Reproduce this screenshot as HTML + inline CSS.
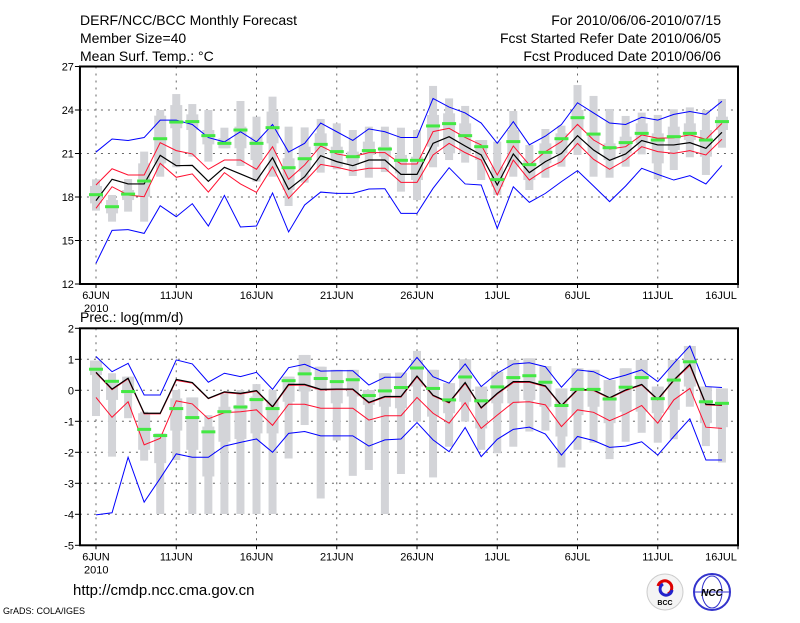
<!DOCTYPE html>
<html><head><meta charset="utf-8"><style>
body{margin:0;background:#fff;}
svg text{font-family:"Liberation Sans",sans-serif;fill:#000;}
</style></head><body>
<svg id="chart" width="800" height="618" viewBox="0 0 800 618" xmlns="http://www.w3.org/2000/svg">
<text x="80" y="25" font-size="14">DERF/NCC/BCC Monthly Forecast</text>
<text x="80" y="43" font-size="14">Member Size=40</text>
<text x="80" y="61" font-size="14">Mean Surf. Temp.: °C</text>
<text x="721" y="25" font-size="14" text-anchor="end">For 2010/06/06-2010/07/15</text>
<text x="721" y="43" font-size="14" text-anchor="end">Fcst Started Refer Date 2010/06/05</text>
<text x="721" y="61" font-size="14" text-anchor="end">Fcst Produced Date 2010/06/06</text>
<text x="80" y="322" font-size="14">Prec.: log(mm/d)</text>
<text x="73" y="595" font-size="15">http://cmdp.ncc.cma.gov.cn</text>
<text x="3" y="614" font-size="9">GrADS: COLA/IGES</text>
<g>
<circle cx="665" cy="592" r="18" fill="#f4f4f4" stroke="#ccc"/>
<path d="M658 586 a7 7 0 1 1 10 8" fill="none" stroke="#d00" stroke-width="3"/>
<path d="M672 590 a6 6 0 1 1 -9 -6" fill="none" stroke="#22c" stroke-width="3"/>
<text x="665" y="605" font-size="7" text-anchor="middle" font-weight="bold" fill="#333">BCC</text>
</g>
<g>
<circle cx="712" cy="592" r="18" fill="#fff" stroke="#33c" stroke-width="2"/>
<ellipse cx="712" cy="592" rx="10" ry="16" fill="none" stroke="#33c"/>
<line x1="694" y1="592" x2="730" y2="592" stroke="#33c"/>
<text x="712" y="596" font-size="10" text-anchor="middle" font-weight="bold" fill="#22c" font-style="italic">NCC</text>
</g>
</svg>
<script>
// ---- Temperature panel data ----
const days = ['6JUN','11JUN','16JUN','21JUN','26JUN','1JUL','6JUL','11JUL','16JUL'];
const tTicks = [27,24,21,18,15,12];
const tBlueTop = [21.1,22.0,21.9,22.1,23.3,23.3,23.0,22.1,21.8,22.5,21.8,23.0,21.1,21.7,23.1,22.5,21.9,22.7,22.5,22.1,22.1,24.8,24.2,23.8,23.1,21.7,23.2,21.6,22.2,23.0,24.5,23.8,23.1,23.0,23.5,23.3,23.7,23.9,23.7,24.6];
const tRedTop = [18.83,19.95,19.52,19.52,21.75,21.2,20.97,19.91,20.55,20.55,19.91,21.47,19.22,20.21,21.52,20.97,20.78,21.06,21.06,20.28,20.28,22.51,22.74,22.11,21.59,19.52,21.52,20.21,21.13,21.82,23.01,21.93,21.31,21.47,22.28,22.05,22.09,22.28,21.98,23.08];
const tMean = [17.75,19.22,18.9,18.9,20.87,20.16,20.18,19.08,20.05,19.59,19.13,20.71,18.53,19.4,20.85,20.44,20.16,20.55,20.55,19.56,19.56,21.7,22.16,21.52,20.9,18.83,20.97,19.68,20.44,21.01,22.23,21.24,20.53,20.97,21.89,21.59,21.59,21.75,21.36,22.46];
const tRedBot = [17.22,18.71,18.14,18.02,20.32,19.36,19.59,18.34,19.68,18.9,18.32,20.09,17.91,19.06,20.25,20.05,19.79,19.98,19.98,19.01,19.01,20.9,21.7,21.06,20.55,18.14,20.55,19.17,19.91,20.44,21.7,20.6,19.91,20.55,21.47,21.13,21.01,21.2,20.9,21.98];
const tBlueBot = [13.43,15.7,15.75,15.49,17.4,16.64,17.54,16.0,18.11,15.93,16.0,18.28,15.59,17.45,18.34,18.25,18.25,18.55,18.57,16.87,16.87,18.6,20.02,18.9,18.83,15.84,18.71,17.63,18.25,19.06,19.82,18.76,17.68,18.76,19.98,19.56,19.17,19.47,18.9,20.18];
const tOutHi = [19.22,18.14,19.24,21.13,24.0,25.1,24.41,24.0,22.78,24.62,23.54,24.92,22.85,22.8,23.38,23.08,22.62,22.85,22.85,22.78,22.62,25.66,24.8,24.28,21.93,21.82,23.93,21.59,22.69,22.92,25.72,24.97,24.07,23.59,23.82,23.66,24.05,24.18,24.0,24.76];
const tOutLo = [17.06,16.3,16.99,16.3,19.4,20.05,20.78,20.44,21.36,20.14,19.06,19.4,17.38,18.99,19.68,19.91,19.45,19.33,19.72,18.37,17.79,20.05,20.55,20.37,19.17,18.14,19.4,18.48,19.33,20.09,20.9,19.4,19.33,20.09,20.94,19.22,19.86,20.74,19.52,21.4];
const tInHi = [18.76,17.79,18.48,20.32,23.61,24.34,23.7,22.62,22.05,22.85,22.16,23.89,20.67,21.47,22.39,21.47,21.13,21.82,21.47,20.9,20.78,23.66,23.77,23.08,21.93,20.09,22.62,20.55,21.7,22.39,24.0,22.39,21.7,22.16,23.08,22.39,22.85,23.08,22.62,23.54];
const tInLo = [17.56,16.87,17.79,18.02,20.32,22.74,22.62,21.63,21.36,21.36,20.55,21.7,18.48,19.75,21.13,20.09,20.21,20.9,20.78,19.63,19.17,21.47,21.01,21.01,20.55,18.71,20.09,19.17,20.32,21.01,22.62,21.01,20.55,21.01,21.7,20.32,21.24,21.93,20.78,22.62];
const tGreen = [18.16,17.33,18.2,19.1,22.02,23.17,23.2,22.23,21.7,22.62,21.7,22.78,20.02,20.64,21.63,21.13,20.78,21.2,21.31,20.53,20.53,22.9,23.06,22.23,21.47,19.2,21.82,20.23,21.08,22.02,23.47,22.34,21.4,21.75,22.39,21.93,22.16,22.39,21.93,23.2];
// ---- Precipitation panel data ----
const pTicks = [2,1,0,-1,-2,-3,-4,-5];
const pBlueTop = [1.09,0.6,0.87,-0.15,-0.15,0.98,0.85,0.26,0.55,0.44,0.58,0.03,0.73,0.84,0.62,0.63,0.63,0.17,0.42,0.42,1.06,0.44,0.23,0.85,0.12,0.55,0.85,0.89,0.76,0.1,0.66,0.6,0.35,0.49,0.66,0.28,0.87,1.43,0.12,0.09];
const pMean = [0.58,0.04,0.39,-0.74,-0.74,0.35,0.25,-0.26,-0.05,-0.1,-0.01,-0.53,0.19,0.19,0.03,0.04,0.04,-0.39,-0.2,-0.2,0.46,-0.16,-0.39,0.25,-0.56,-0.1,0.28,0.28,0.14,-0.49,0.03,0.01,-0.24,0.01,0.19,-0.29,0.33,0.84,-0.45,-0.47];
const pRedTop = [0.56,0.02,0.37,-0.76,-0.76,0.32,0.23,-0.27,-0.07,-0.12,-0.03,-0.55,0.16,0.17,0.01,0.02,0.02,-0.41,-0.22,-0.22,0.43,-0.18,-0.41,0.22,-0.58,-0.12,0.25,0.26,0.12,-0.51,0.01,-0.01,-0.26,-0.01,0.17,-0.31,0.31,0.8,-0.47,-0.49];
const pRedBot = [-0.23,-0.87,-0.37,-1.76,-1.55,-0.34,-0.44,-0.92,-0.72,-0.69,-0.63,-1.13,-0.45,-0.45,-0.58,-0.58,-0.58,-0.96,-0.82,-0.82,-0.23,-0.74,-1.06,-0.4,-1.23,-0.8,-0.39,-0.37,-0.47,-1.17,-0.63,-0.71,-0.98,-0.76,-0.49,-1.06,-0.31,0.06,-1.19,-1.23];
const pBlueBot = [-4.02,-3.95,-2.16,-3.61,-2.84,-2.05,-2.16,-2.16,-1.8,-1.68,-1.57,-2.0,-1.39,-1.33,-1.47,-1.47,-1.47,-1.8,-1.6,-1.57,-1.04,-1.6,-1.98,-1.2,-2.14,-1.58,-1.26,-1.19,-1.41,-2.09,-1.49,-1.62,-1.84,-1.8,-1.66,-2.09,-1.49,-0.92,-2.25,-2.25];
const pOutHi = [0.96,0.55,0.44,-0.69,-1.39,0.01,-0.23,-0.8,-0.1,0.01,0.2,0.01,0.44,1.14,0.76,0.66,0.66,0.01,0.55,0.57,1.27,0.66,0.23,1.0,0.12,0.6,0.98,1.03,0.78,0.06,0.71,0.66,0.33,0.71,0.98,0.12,0.98,1.43,0.12,0.06];
const pOutLo = [-0.83,-2.14,-0.9,-2.27,-3.99,-2.25,-3.99,-3.99,-3.99,-3.99,-3.99,-3.99,-2.2,-1.12,-3.49,-1.62,-2.76,-2.57,-3.99,-2.7,-1.01,-2.81,-1.82,-1.01,-1.92,-2.03,-1.82,-1.33,-1.3,-2.49,-1.92,-1.69,-2.22,-1.66,-1.37,-1.69,-1.58,-0.53,-1.8,-2.33];
const pInHi = [0.96,0.23,0.44,-0.74,-1.39,-0.26,-0.23,-1.17,-0.53,-0.47,-0.2,-0.31,0.44,1.14,0.76,0.66,0.66,0.01,0.55,0.57,0.98,0.66,0.23,1.0,0.12,0.6,0.98,1.03,0.78,0.06,0.71,0.66,0.33,0.71,0.98,0.12,0.98,1.43,0.12,0.06];
const pInLo = [0.49,-0.31,-0.1,-1.92,-2.35,-1.3,-1.92,-2.78,-1.66,-1.57,-1.39,-1.39,-0.37,-0.04,0.01,-0.42,-0.2,-0.47,-0.53,-0.58,0.12,-0.85,-0.74,-0.37,-1.23,-0.42,-0.42,-0.31,-0.53,-1.49,-0.8,-0.53,-1.06,-0.69,-0.69,-0.74,-0.63,0.12,-1.06,-1.19];
const pGreen = [0.68,0.29,-0.04,-1.26,-1.46,-0.59,-0.88,-1.34,-0.69,-0.54,-0.3,-0.59,0.31,0.53,0.38,0.28,0.34,-0.17,-0.02,0.09,0.72,0.06,-0.31,0.43,-0.34,0.11,0.41,0.47,0.26,-0.49,0.03,0.03,-0.28,0.1,0.41,-0.27,0.33,0.92,-0.37,-0.42];

const NS='http://www.w3.org/2000/svg';
const svg=document.getElementById('chart');
function mk(tag,attrs,parent){const e=document.createElementNS(NS,tag);for(const k in attrs)e.setAttribute(k,attrs[k]);(parent||svg).appendChild(e);return e;}
const xDay=d=>96+16.05*d;
const X0=xDay(-1), X1=xDay(40);

function panel(cfg){
  const g=mk('g',{});
  
  
  const y=cfg.y, top=y(cfg.max), bot=y(cfg.min);
  for(let k=0;k<days.length-1;k++){
    const gl=mk('line',{x1:xDay(k*5),x2:xDay(k*5),y1:top,y2:bot,stroke:'#666','stroke-dasharray':'2,5','stroke-width':1},g);
    
    
  }
  cfg.ticks.forEach(t=>{
    if(t!==cfg.max&&t!==cfg.min){
      const hl=mk('line',{x1:X0,x2:X1,y1:y(t),y2:y(t),stroke:'#666','stroke-dasharray':'2,5','stroke-width':1},g);
      
      
    }
    const tk=mk('line',{x1:X0-5,x2:X0,y1:y(t),y2:y(t),stroke:'#000'},g);
    
    
    const tl=mk('text',{x:X0-6,y:y(t)+4,'font-size':11,'text-anchor':'end'},g);
    tl.textContent=t;
    
    
  });
  const n=cfg.mean.length;
  for(let i=0;i<n;i++){
    const cx=xDay(i);
    const o=mk('rect',{x:cx-4,y:y(cfg.outHi[i]),width:8,height:Math.max(0,y(cfg.outLo[i])-y(cfg.outHi[i])),fill:'#d3d4d8'},g);
    
    
    const b=mk('rect',{x:cx-6,y:y(cfg.inHi[i]),width:12,height:Math.max(0,y(cfg.inLo[i])-y(cfg.inHi[i])),fill:'#d3d4d8'},g);
    
    
  }
  const line=(arr,col,w,name)=>{
    const p=mk('polyline',{points:arr.map((v,i)=>xDay(i)+','+y(v)).join(' '),fill:'none',stroke:col,'stroke-width':w},g);
    
    
  };
  line(cfg.blueTop,'#0000ff',1,'max-line');
  line(cfg.blueBot,'#0000ff',1,'min-line');
  line(cfg.redBot,'#ff1030',1,'lower-std-line');
  line(cfg.redTop,'#ff1030',1,'upper-std-line');
  line(cfg.mean,'#000',1.2,'ensemble-mean-line');
  for(let i=0;i<n;i++){
    const gr=mk('rect',{x:xDay(i)-7,y:y(cfg.green[i])-1.5,width:14,height:3,fill:'#44e844'},g);
    
    
  }
  const fr=mk('rect',{x:X0,y:top,width:X1-X0,height:bot-top,fill:'none',stroke:'#000','stroke-width':2},g);
  
  
  days.forEach((d,k)=>{
    const tk=mk('line',{x1:xDay(k*5),x2:xDay(k*5),y1:bot,y2:bot+4,stroke:'#000'},g);
    
    
    const lx = k===days.length-1 ? xDay(k*5)-17 : xDay(k*5);
    const t=mk('text',{x:lx,y:bot+15,'font-size':11,'text-anchor':'middle'},g);
    t.textContent=d;
    
    
  });
  const yr=mk('text',{x:xDay(0)-12,y:bot+28,'font-size':11},g);
  yr.textContent='2010';
  
  
}
panel({name:'temperature-panel',y:v=>110+(24-v)*14.5,max:27,min:12,ticks:tTicks,blueTop:tBlueTop,redTop:tRedTop,mean:tMean,redBot:tRedBot,blueBot:tBlueBot,outHi:tOutHi,outLo:tOutLo,inHi:tInHi,inLo:tInLo,green:tGreen});
panel({name:'precipitation-panel',y:v=>390.3-v*31,max:2,min:-5,ticks:pTicks,blueTop:pBlueTop,redTop:pRedTop,mean:pMean,redBot:pRedBot,blueBot:pBlueBot,outHi:pOutHi,outLo:pOutLo,inHi:pInHi,inLo:pInLo,green:pGreen});
</script>
</body></html>
